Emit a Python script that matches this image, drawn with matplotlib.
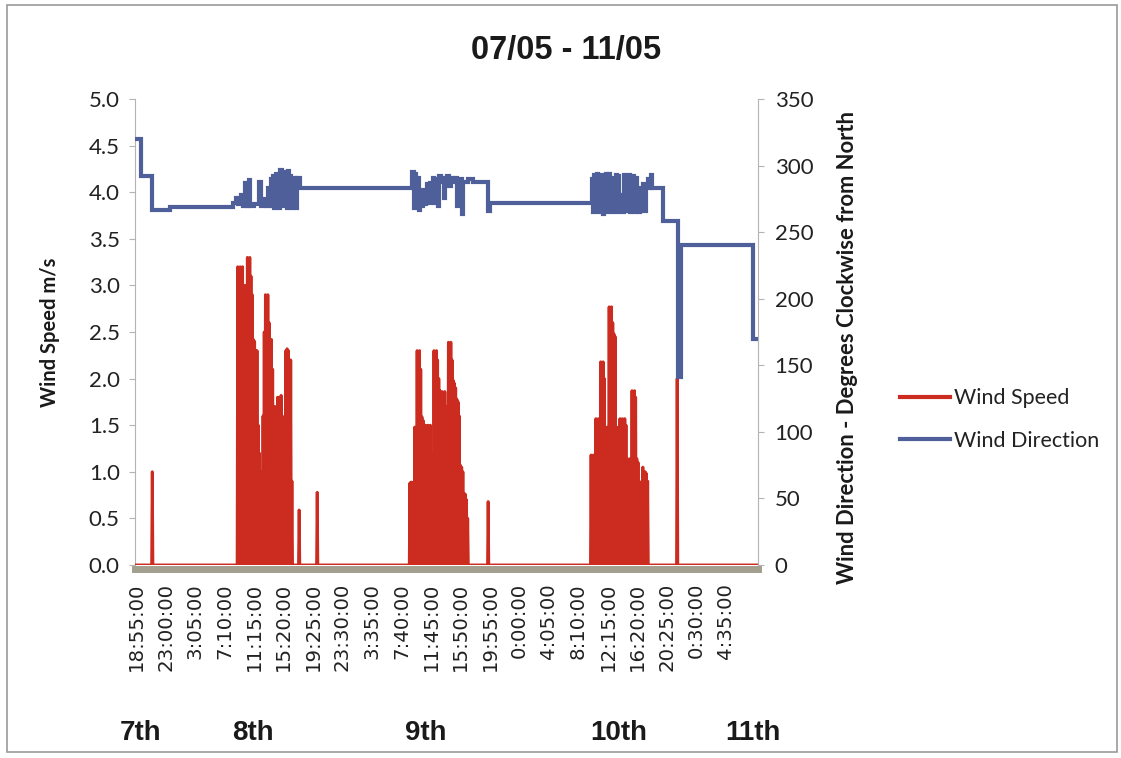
import numpy as np
import matplotlib
matplotlib.use("Agg")
import matplotlib.pyplot as plt
from matplotlib.patches import Rectangle

# ---------------------------------------------------------------------------
# 5-minute readings, 07/05 18:55 to 11/05 ~08:50 (sample index = reading no.)
# ---------------------------------------------------------------------------
n_samples = 1032
label_every = 49  # one axis label every 49 readings (4 h 05 min)

tick_labels = ["18:55:00", "23:00:00", "3:05:00", "7:10:00", "11:15:00",
               "15:20:00", "19:25:00", "23:30:00", "3:35:00", "7:40:00",
               "11:45:00", "15:50:00", "19:55:00", "0:00:00", "4:05:00",
               "8:10:00", "12:15:00", "16:20:00", "20:25:00", "0:30:00",
               "4:35:00"]
day_labels = ["7th", "8th", "9th", "10th", "11th"]

# isolated wind speed readings (m/s); every other reading is calm
speed_single_idx = [27, 271, 301, 585, 899]
speed_single_val = [1.0, 0.59, 0.78, 0.68, 2.0]

# daytime gusty periods: readings taken every second sample, calm in between
burst_start = [169, 455, 756]
burst_8th = [3.2, 3.1, 3.2, 2.9, 3.2, 2.6, 3.0, 2.2, 3.3, 3.25, 3.3, 3.1,
             2.9, 2.42, 2.4, 2.3, 2.3, 1.5, 1.2, 1.0, 0.9, 1.6, 2.5, 2.9,
             2.85, 2.9, 2.6, 2.4, 2.42, 2.1, 1.7, 1.7, 1.5, 1.8, 1.8, 1.75,
             1.82, 1.6, 1.0, 0.9, 2.3, 2.32, 2.3, 2.2, 2.2, 0.9]
burst_9th = [0.88, 0.89, 0.85, 0.89, 1.48, 1.45, 2.3, 2.25, 2.3, 2.1, 1.59,
             1.55, 1.5, 1.5, 1.45, 1.5, 1.4, 1.5, 1.2, 1.1, 2.3, 2.28, 2.3,
             2.2, 2.0, 1.87, 1.85, 1.86, 1.8, 1.86, 1.7, 1.5, 2.39, 2.35,
             2.39, 2.2, 1.98, 1.95, 1.9, 1.78, 1.75, 1.6, 1.07, 1.05, 1.0,
             0.77, 0.76, 0.7, 0.5]
burst_10th = [1.18, 1.15, 1.18, 1.1, 1.57, 1.55, 1.57, 1.5, 2.18, 2.15, 2.18,
              2.0, 1.48, 1.45, 1.48, 2.77, 2.75, 2.77, 2.6, 2.48, 2.45, 1.48,
              1.45, 1.48, 1.57, 1.55, 1.57, 1.5, 1.57, 1.5, 1.14, 1.1, 1.14,
              1.0, 1.87, 1.85, 1.87, 1.8, 1.14, 1.1, 0.9, 0.78, 0.75, 1.05,
              1.0, 1.0, 0.98, 0.9]

# wind direction (degrees clockwise from north): reading index where the
# logged value changes, and the new value
dir_idx = [0, 8, 27, 57,
           161, 166, 170, 174, 177, 181, 184, 187, 190, 196, 204, 207, 212,
           216, 220, 222, 224, 226, 228, 230, 232, 234, 236, 238, 240, 242,
           244, 246, 248, 250, 252, 254, 256, 258, 260, 262, 264, 266, 268,
           272,
           458, 461, 463, 465, 468, 470, 472, 475, 477, 479, 481, 483, 486,
           488, 491, 493, 495, 497, 500, 502, 504, 507, 510, 512, 514, 517,
           520, 523, 527, 530, 534, 536, 541, 544, 552, 560, 585, 588,
           757, 759, 761, 763, 765, 767, 769, 771, 773, 775, 777, 779, 781,
           783, 785, 787, 789, 791, 793, 795, 797, 799, 801, 803, 805, 807,
           810, 812, 814, 816, 818, 820, 822, 824, 826, 828, 830, 832, 834,
           836, 838, 840, 842, 844, 847, 850, 852, 855, 858,
           875, 901, 905, 1025]
dir_val = [320, 292, 267, 269,
           272, 276, 271, 278, 270, 287, 270, 289, 270, 271, 288, 270, 275,
           270, 283, 270, 290, 272, 292, 268, 294, 270, 291, 268, 297, 272,
           295, 270, 293, 268, 296, 271, 292, 268, 290, 270, 291, 268, 291,
           283,
           295, 268, 294, 270, 291, 267, 280, 270, 282, 271, 279, 286, 272,
           287, 284, 291, 272, 290, 286, 270, 292, 288, 291, 276, 290, 292,
           285, 291, 288, 291, 270, 290, 264, 288, 290, 288, 266, 272,
           290, 265, 293, 266, 294, 265, 292, 268, 293, 264, 286, 266, 294,
           265, 294, 268, 291, 265, 290, 270, 293, 265, 292, 266, 278, 265,
           293, 266, 292, 270, 293, 265, 284, 266, 292, 265, 291, 266, 280,
           265, 283, 270, 286, 266, 285, 290, 283, 293, 283,
           258, 141, 240, 170]

# ---------------------------------------------------------------------------
# assemble series
# ---------------------------------------------------------------------------
samples = np.arange(n_samples)
speed = np.zeros(n_samples)
speed[speed_single_idx] = speed_single_val
for start, vals in zip(burst_start, [burst_8th, burst_9th, burst_10th]):
    speed[start + 2 * np.arange(len(vals))] = vals

dir_x = np.array(dir_idx + [n_samples - 1])
dir_y = np.array(dir_val + [dir_val[-1]])

# ---------------------------------------------------------------------------
# figure
# ---------------------------------------------------------------------------
W, H = 1121, 758
fig = plt.figure(figsize=(W / 100, H / 100), dpi=100)
fig.patch.set_facecolor("white")

left, right, top, bottom = 135, 758, 99, 565
ax = fig.add_axes([left / W, 1 - bottom / H, (right - left) / W, (bottom - top) / H])
ax2 = ax.twinx()

red = "#cc2b1f"
blue = "#4f5f99"
axis_grey = "#b4b4b4"
text_col = "#222222"
sans = ["Lato", "DejaVu Sans"]

l1, = ax.plot(samples, speed, color=red, lw=2.1, zorder=3, label="Wind Speed")
l2, = ax2.plot(dir_x, dir_y, color=blue, lw=3.0, drawstyle="steps-post",
               solid_joinstyle="miter", label="Wind Direction")

ax.set_xlim(-1.7, 1033.3)
ax.set_ylim(0, 5.0)
ax2.set_ylim(0, 350)

# axis styling first, labels afterwards
ax.tick_params(axis="x", length=0, pad=10, labelrotation=90, labelsize=14.2,
               labelcolor=text_col)
ax.tick_params(axis="y", length=4, width=0.8, color=axis_grey, pad=7,
               labelsize=16, labelcolor=text_col)
ax2.tick_params(axis="y", length=4, width=0.8, color=axis_grey, pad=8,
                labelsize=16, labelcolor=text_col)

ax.set_yticks(np.arange(0, 5.01, 0.5))
ax.set_yticklabels([f"{v:.1f}" for v in np.arange(0, 5.01, 0.5)])
ax2.set_yticks(np.arange(0, 351, 50))
ax.set_xticks(np.arange(len(tick_labels)) * label_every)
ax.set_xticklabels(tick_labels)

for lab in ax.get_xticklabels():
    lab.set_family(["Liberation Mono"])
    lab.set_rotation(90)
    lab.set_fontsize(14.2)
    lab.set_va("top")
    lab.set_ha("center")
for lab in ax.get_yticklabels() + ax2.get_yticklabels():
    lab.set_family(sans)

for a in (ax, ax2):
    a.spines["top"].set_visible(False)
    a.patch.set_visible(False)
ax2.spines["bottom"].set_visible(False)
ax2.spines["left"].set_visible(False)
ax.spines["right"].set_visible(False)
ax.spines["left"].set_color(axis_grey)
ax.spines["left"].set_linewidth(0.8)
ax2.spines["right"].set_color(axis_grey)
ax2.spines["right"].set_linewidth(0.8)
ax.spines["bottom"].set_color("#a39f8f")
ax.spines["bottom"].set_linewidth(5)
ax.spines["bottom"].set_position(("outward", 3))

# titles and axis captions
fig.text(566 / W, 1 - 50 / H, "07/05 - 11/05", ha="center", va="center",
         fontsize=23.5, fontweight="bold", family=["Liberation Sans"], color="#1a1a1a")
fig.text(50 / W, 1 - 332 / H, "Wind Speed m/s", rotation=90, ha="center",
         va="center", fontsize=14.5, fontweight="bold", family=sans, color="#1a1a1a")
fig.text(848 / W, 1 - 347 / H, "Wind Direction - Degrees Clockwise from North",
         rotation=90, ha="center", va="center", fontsize=15.8, fontweight="bold",
         family=sans, color="#1a1a1a")

day_x = [141, 253, 426, 619, 753]
for txt, xp in zip(day_labels, day_x):
    fig.text(xp / W, 1 - 733 / H, txt, ha="center", va="center", fontsize=20,
             fontweight="bold", family=["Liberation Sans"], color="#1a1a1a")

leg = fig.legend(handles=[l1, l2], loc="center left",
                 bbox_to_anchor=(900 / W, 1 - 419.5 / H), frameon=False,
                 borderpad=0, borderaxespad=0, handlelength=2.3,
                 handletextpad=0.2, labelspacing=1.05,
                 prop={"family": sans, "size": 15.5})
for h in leg.legend_handles:
    h.set_linewidth(3)
    h.set_drawstyle("default")
for t in leg.get_texts():
    t.set_color(text_col)

# chart area border
fig.patches.append(Rectangle((7 / W, 1 - 752 / H), 1110 / W, 747 / H,
                             transform=fig.transFigure, fill=False,
                             edgecolor="#9a9a9a", lw=1.2))

fig.savefig("out.png", dpi=100, facecolor="white")
